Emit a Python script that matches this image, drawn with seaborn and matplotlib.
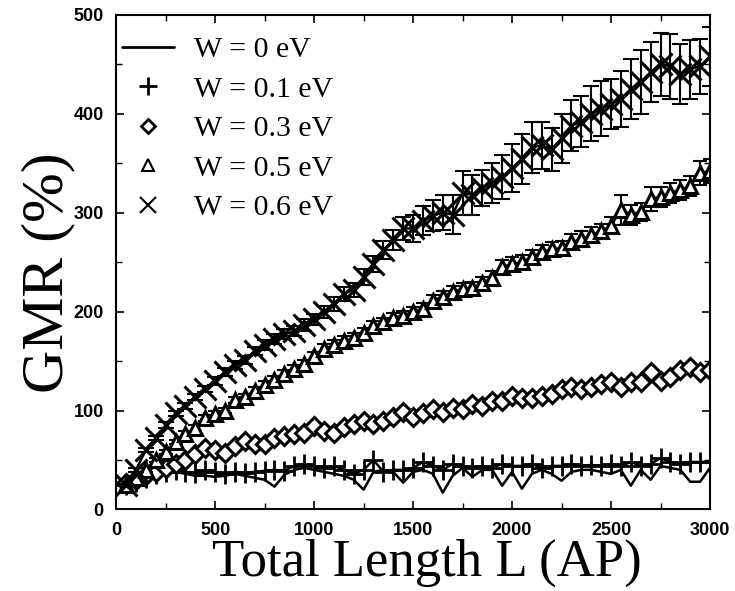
import matplotlib
matplotlib.use("Agg")
import matplotlib.pyplot as plt
from matplotlib.legend_handler import HandlerLine2D
from matplotlib.lines import Line2D
from matplotlib.ticker import MultipleLocator
import numpy as np
import pandas as pd
import seaborn as sns

# total length L (AP), one sample every 50
length = np.arange(50, 3001, 50)

gmr_w00 = [25, 30, 33, 36, 38, 38, 36, 34, 34, 33, 34, 36, 34, 32, 30, 23, 35, 40, 42, 40,
           38, 36, 34, 30, 20, 38, 40, 38, 27, 38, 40, 36, 17, 34, 42, 33, 40, 40, 24, 38,
           21, 36, 40, 36, 29, 38, 40, 40, 38, 36, 40, 24, 40, 30, 44, 42, 40, 28, 28, 42]
gmr_w01 = [25, 28, 32, 36, 38, 40, 38, 37, 40, 38, 36, 38, 37, 38, 39, 40, 39, 44, 46, 44,
           42, 44, 40, 36, 40, 50, 38, 40, 40, 42, 48, 44, 40, 46, 44, 42, 44, 42, 46, 44,
           44, 46, 42, 44, 44, 46, 44, 45, 44, 46, 44, 48, 44, 46, 52, 48, 46, 48, 48, 48]
gmr_w03 = [27, 30, 35, 38, 42, 46, 50, 56, 62, 60, 57, 64, 69, 66, 66, 72, 74, 76, 77, 84,
           79, 77, 83, 86, 89, 86, 89, 93, 98, 93, 97, 102, 98, 103, 102, 107, 105, 110, 110, 115,
           113, 113, 115, 117, 122, 124, 122, 124, 127, 129, 124, 129, 129, 139, 130, 134, 141, 144, 139, 141]
gmr_w05 = [25, 32, 40, 50, 58, 68, 76, 82, 92, 96, 100, 111, 114, 120, 126, 131, 137, 142, 147, 155,
           162, 166, 170, 173, 178, 185, 189, 194, 196, 200, 203, 211, 215, 220, 223, 224, 229, 234, 245, 248,
           250, 255, 260, 263, 264, 270, 273, 277, 281, 287, 303, 298, 301, 314, 316, 320, 323, 327, 340, 342]
err_w05 = [1, 1, 2, 2, 2, 2, 3, 3, 3, 3, 3, 3, 3, 4, 4, 4, 4, 4, 4, 4,
           5, 5, 5, 5, 5, 5, 5, 5, 5, 5, 6, 6, 6, 6, 6, 6, 6, 7, 7, 7,
           7, 7, 7, 7, 7, 8, 8, 8, 8, 9, 15, 10, 9, 12, 10, 10, 10, 10, 12, 12]
gmr_w06 = [25, 40, 60, 72, 85, 97, 105, 114, 122, 130, 139, 146, 151, 160, 166, 172, 177, 180, 186, 192,
           200, 208, 218, 222, 235, 248, 262, 272, 284, 284, 292, 297, 300, 298, 320, 318, 325, 330, 336, 345,
           354, 366, 368, 364, 375, 388, 392, 400, 405, 410, 415, 425, 432, 442, 450, 448, 440, 445, 448, 458]
err_w06 = [1, 2, 2, 2, 3, 3, 3, 3, 3, 4, 4, 4, 4, 4, 5, 5, 5, 5, 6, 6,
           6, 7, 7, 7, 8, 8, 9, 10, 12, 14, 15, 16, 18, 20, 22, 20, 18, 20, 22, 24,
           25, 26, 24, 22, 25, 26, 26, 28, 28, 25, 28, 30, 32, 30, 32, 33, 30, 30, 28, 30]

legend_labels = ["W = 0 eV", "W = 0.1 eV", "W = 0.3 eV", "W = 0.5 eV", "W = 0.6 eV"]


class RightMarkerHandler(HandlerLine2D):
    """Put a marker-only legend handle at the right end, next to the text."""

    def get_xdata(self, legend, xdescent, ydescent, width, height, fontsize):
        xdata, _ = super().get_xdata(legend, xdescent, ydescent, width, height, fontsize)
        return xdata, np.array([width - xdescent - 0.05 * fontsize])


sns.set_theme(style="ticks")
plt.rcParams["font.family"] = ["Liberation Sans", "DejaVu Sans"]

fig = plt.figure(figsize=(7.35, 5.91), dpi=100)
ax = fig.add_axes([0.158, 0.138, 0.808, 0.837])

df = pd.DataFrame({"L": length, "w00": gmr_w00, "w01": gmr_w01, "w03": gmr_w03,
                   "w05": gmr_w05, "w06": gmr_w06})

line_kw = dict(color="black", lw=1.8, markeredgecolor="black")
sns.lineplot(data=df, x="L", y="w00", ax=ax, color="black", lw=1.8)
sns.lineplot(data=df, x="L", y="w01", ax=ax, marker="+", markersize=15,
             markeredgewidth=2, **line_kw)
sns.lineplot(data=df, x="L", y="w03", ax=ax, marker="D", markersize=9,
             markerfacecolor="white", markeredgewidth=2.2, **line_kw)
ax.errorbar(length, gmr_w05, yerr=err_w05, fmt="none", ecolor="black", elinewidth=1.5,
            capsize=5, capthick=1.5)
sns.lineplot(data=df, x="L", y="w05", ax=ax, marker="^", markersize=10,
             markerfacecolor="white", markeredgewidth=2.2, **line_kw)
ax.errorbar(length, gmr_w06, yerr=err_w06, fmt="none", ecolor="black", elinewidth=1.5,
            capsize=6, capthick=1.5)
sns.lineplot(data=df, x="L", y="w06", ax=ax, marker="x", markersize=16,
             markeredgewidth=2.2, **line_kw)

ax.set_xlim(0, 3000)
ax.set_ylim(0, 500)
ax.xaxis.set_major_locator(MultipleLocator(500))
ax.xaxis.set_minor_locator(MultipleLocator(250))
ax.yaxis.set_major_locator(MultipleLocator(100))
ax.yaxis.set_minor_locator(MultipleLocator(50))
ax.tick_params(which="both", direction="in", top=True, right=True, colors="black")
ax.tick_params(which="major", length=6, width=1.2, labelsize=13, pad=9)
ax.tick_params(which="minor", length=4, width=1.0)
for lab in ax.get_xticklabels() + ax.get_yticklabels():
    lab.set_fontweight("bold")
for sp in ax.spines.values():
    sp.set_linewidth(1.5)
    sp.set_color("black")

serif = ["Liberation Serif", "DejaVu Serif"]
ax.set_xlabel("Total Length L (AP)", family=serif, fontsize=38, color="black")
ax.set_ylabel("GMR (%)", family=serif, fontsize=43, color="black")
ax.xaxis.set_label_coords(0.524, -0.06)
ax.yaxis.set_label_coords(-0.068, 0.478)

handles = [
    Line2D([], [], color="black", lw=2),
    Line2D([], [], color="black", ls="none", marker="+", markersize=13, markeredgewidth=2),
    Line2D([], [], color="black", ls="none", marker="D", markersize=7, markerfacecolor="white",
           markeredgewidth=2),
    Line2D([], [], color="black", ls="none", marker="^", markersize=8, markerfacecolor="white",
           markeredgewidth=1.5),
    Line2D([], [], color="black", ls="none", marker="x", markersize=12, markeredgewidth=1.5),
]
leg = ax.legend(handles, legend_labels, loc="upper left", bbox_to_anchor=(0.0, 0.968),
                frameon=False, handlelength=1.75, handletextpad=0.67, labelspacing=0.42,
                borderaxespad=0.0, borderpad=0.2,
                handler_map={h: RightMarkerHandler() for h in handles[1:]},
                prop={"family": serif, "size": 21.5})
for t in leg.get_texts():
    t.set_color("black")

fig.savefig("out.png", dpi=100)
